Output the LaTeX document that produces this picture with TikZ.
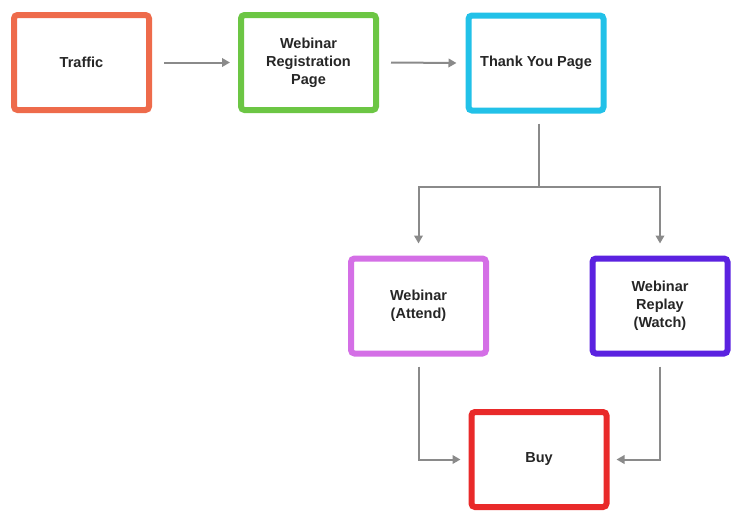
\documentclass[tikz,border=0pt]{standalone}
\usepackage{fontspec}
\setmainfont{Liberation Sans}
\usetikzlibrary{arrows.meta,shadows}
\definecolor{cTraffic}{HTML}{EE6B4B}
\definecolor{cReg}{HTML}{6CC644}
\definecolor{cThank}{HTML}{22C1E8}
\definecolor{cAttend}{HTML}{D46FE6}
\definecolor{cReplay}{HTML}{5B22E0}
\definecolor{cBuy}{HTML}{E92A2A}
\definecolor{cLine}{HTML}{8A8A8A}
\tikzset{
  box/.style={draw=#1, line width=6pt, fill=white, rounded corners=3.5pt,
    minimum width=135pt, minimum height=95pt, align=center,
    font=\bfseries\fontsize{14.5}{18}\selectfont, text=black!85,
    drop shadow={shadow xshift=1.5pt, shadow yshift=-1.5pt, opacity=0.18, fill=black}},
  conn/.style={draw=cLine, line width=2pt, -{Triangle[length=8pt,width=8.5pt]}}
}
\begin{document}
\begin{tikzpicture}[x=1pt,y=-1pt]
\useasboundingbox (0,0) rectangle (750,520);
\node[box=cTraffic] (traffic) at (81.5,62.5) {Traffic};
\node[box=cReg] (reg) at (308.5,62.5) {Webinar\\Registration\\Page};
\node[box=cThank] (thank) at (536,63) {Thank You Page};
\node[box=cAttend] (attend) at (418.5,306) {Webinar\\(Attend)};
\node[box=cReplay] (replay) at (660,306) {Webinar\\Replay\\(Watch)};
\node[box=cBuy] (buy) at (539,459.5) {Buy};
\coordinate (split) at ([xshift=3pt,yshift=-73pt]thank.south);
\draw[conn] ([xshift=12pt]traffic.east) -- ([xshift=-8pt]reg.west);
\draw[conn] ([xshift=12pt]reg.east) -- ([xshift=-9pt]thank.west);
\draw[draw=cLine, line width=2pt] ([xshift=3pt,yshift=-10pt]thank.south) -- (split);
\draw[conn] (split) -| ([yshift=12pt]attend.north);
\draw[conn] (split) -| ([yshift=12pt]replay.north);
\draw[conn] ([yshift=-10pt]attend.south) |- ([xshift=-8pt]buy.west);
\draw[conn] ([yshift=-10pt]replay.south) |- ([xshift=7pt]buy.east);
\end{tikzpicture}
\end{document}
